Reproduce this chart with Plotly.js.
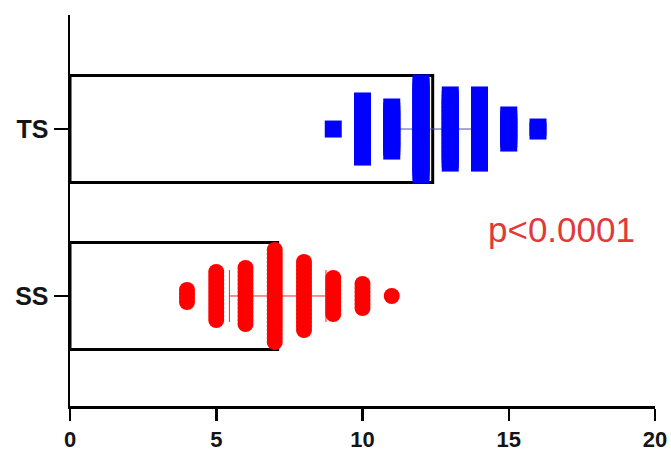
<!DOCTYPE html>
<html><head><meta charset="utf-8">
<script src="https://cdn.plot.ly/plotly-3.0.1.min.js"></script>
<style>html,body{margin:0;padding:0;background:#fff}</style>
</head><body>
<div id="chart" style="width:671px;height:457px"></div>
<script>
// Data
var groups = ["SS", "TS"];
var groupMeans = [7.1, 12.4];
var groupSD = [1.65, 1.35];
var tsValues = [9, 10, 11, 12, 13, 14, 15, 16];
var tsCounts = [1, 15, 12, 24, 18, 18, 8, 2];
var ssValues = [4, 5, 6, 7, 8, 9, 10, 11];
var ssCounts = [4, 13, 15, 24, 18, 10, 7, 1];
var xTicks = [0, 5, 10, 15, 20];
var pText = "p<0.0001";

var stackStep = 0.024; // vertical spread between stacked points (category units)
function expand(values, counts, yc) {
  var xs = [], ys = [];
  values.forEach(function (v, k) {
    var n = counts[k];
    for (var i = 0; i < n; i++) {
      xs.push(v);
      ys.push(yc + (i - (n - 1) / 2) * stackStep);
    }
  });
  return {x: xs, y: ys};
}
var ts = expand(tsValues, tsCounts, 1);
var ss = expand(ssValues, ssCounts, 0);

var fam = "Liberation Sans, Arial, sans-serif";
var traces = [
  {type: "bar", orientation: "h", x: groupMeans, y: [0, 1], width: 0.64,
   marker: {color: "rgba(255,255,255,1)", line: {color: "#000", width: 3}},
   hoverinfo: "skip"},
  {type: "scatter", mode: "markers", x: [groupMeans[0]], y: [0],
   marker: {size: 1, opacity: 0},
   error_x: {type: "data", array: [groupSD[0]], visible: true, color: "#ff2020", thickness: 1, width: 26}},
  {type: "scatter", mode: "markers", x: [groupMeans[1]], y: [1],
   marker: {size: 1, opacity: 0},
   error_x: {type: "data", array: [groupSD[1]], visible: true, color: "#4455aa", thickness: 1, width: 26}},
  {type: "scatter", mode: "markers", x: ss.x, y: ss.y,
   marker: {symbol: "circle", size: 16, color: "#ff0000", line: {width: 0}}},
  {type: "scatter", mode: "markers", x: ts.x, y: ts.y,
   marker: {symbol: "square", size: 17, color: "#0000ff", line: {width: 0}}}
];

var layout = {
  width: 671, height: 457,
  margin: {l: 70, r: 16, t: 15, b: 51},
  paper_bgcolor: "#fff", plot_bgcolor: "#fff",
  showlegend: false,
  barmode: "overlay",
  font: {family: fam, color: "#000"},
  xaxis: {range: [0, 20], tickvals: xTicks, ticktext: xTicks.map(String),
          showgrid: false, zeroline: false, showline: true, linecolor: "#000", linewidth: 2.5,
          ticks: "outside", ticklen: 12, tickwidth: 2.5, tickcolor: "#000",
          tickfont: {size: 22, family: fam, weight: "bold", color: "#151515"}},
  yaxis: {range: [-0.659, 1.683], tickvals: [0, 1], ticktext: groups,
          showgrid: false, zeroline: false, showline: true, linecolor: "#000", linewidth: 2.5,
          ticks: "outside", ticklen: 14, tickwidth: 2, tickcolor: "#000",
          tickfont: {size: 25, family: fam, weight: "bold", color: "#151515"}},
  annotations: [{x: 16.8, y: 0.40, xref: "x", yref: "y", text: pText, showarrow: false,
                 font: {size: 35, color: "#e03a3a", family: fam}}]
};
Plotly.newPlot("chart", traces, layout, {displayModeBar: false, staticPlot: true});
</script>
</body></html>
